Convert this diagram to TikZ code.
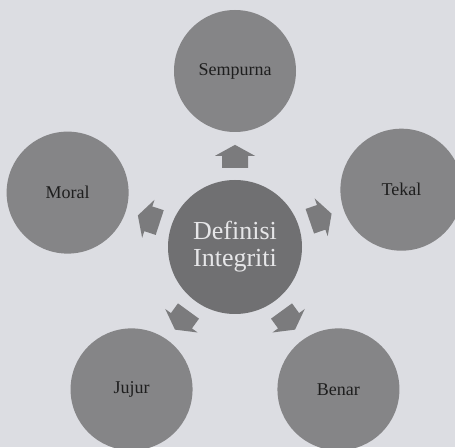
\documentclass[tikz,border=0pt]{standalone}
\usepackage{fontspec}
\setmainfont{Liberation Serif}
\usetikzlibrary{calc}
\definecolor{bgc}{HTML}{DCDDE2}
\definecolor{outc}{HTML}{858587}
\definecolor{cenc}{HTML}{707072}
\definecolor{arrc}{HTML}{7B7B7D}
\definecolor{outtxt}{HTML}{1E1E1E}
\definecolor{centxt}{HTML}{E6E6E8}
\tikzset{
  outer/.style={circle, fill=outc, minimum size=122pt, inner sep=0pt, text=outtxt, font=\fontsize{18}{20}\selectfont},
  centre/.style={circle, fill=cenc, minimum size=134pt, inner sep=0pt, text=centxt, align=center, font=\fontsize{26}{27}\selectfont},
  blockarrow/.style={fill=arrc}
}
\begin{document}
\begin{tikzpicture}[x=1pt,y=1pt]
\useasboundingbox (0,0) rectangle (455,447);
\fill[bgc] (0,0) rectangle (455,447);
\coordinate (o) at (235,200);
\node[centre] (c) at (o) {Definisi\\Integriti};
\node[outer] (s) at ($(o)+(90:176)$) {Sempurna};
\node[outer] (t) at ($(o)+(19:176)$) {Tekal};
\node[outer] (m) at ($(o)+(162:176)$) {Moral};
\node[outer] (j) at ($(o)+(234:176)$) {Jujur};
\node[outer] (b) at ($(o)+(306:176)$) {Benar};
\foreach \n/\a in {s/90, t/19, m/162, j/234, b/306}{
  \fill[blockarrow, shift={($(o)!0.515!(\n)$)}, rotate=\a]
    (-11.5,-13) -- (0.5,-13) -- (0.5,-20) -- (11.5,0) -- (0.5,20) -- (0.5,13) -- (-11.5,13) -- cycle;
}
\end{tikzpicture}
\end{document}
